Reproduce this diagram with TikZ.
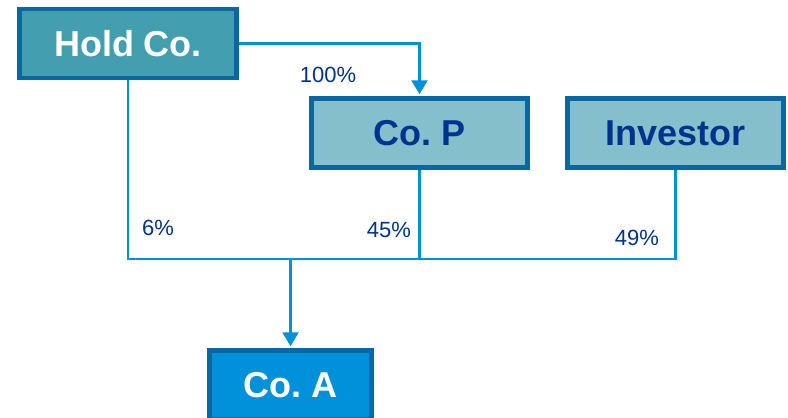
\documentclass[tikz,border=0pt]{standalone}
\usepackage{fontspec}
\setmainfont{Liberation Sans}
\frenchspacing
\usepackage{tikz}
\usetikzlibrary{positioning, calc}
\usetikzlibrary{arrows.meta}
\definecolor{darkblue}{HTML}{0868A2}
\definecolor{navy}{HTML}{00338D}
\definecolor{teal}{HTML}{439EAF}
\definecolor{lightteal}{HTML}{85BFCB}
\definecolor{brightblue}{HTML}{0091DA}
\tikzstyle{orgbox}=[rectangle,draw=darkblue,line width=4.5pt,minimum height=69pt,font=\fontsize{36}{40}\selectfont\bfseries]
\tikzstyle{edgepath} = [brightblue,line width=2.5pt]
\tikzstyle{edgearrow} = [edgepath,-{Triangle[width=16pt,length=14pt]}]
\tikzstyle{pctlabel}=[text=navy,font=\fontsize{22}{24}\selectfont]

\begin{document}
\begin{tikzpicture}[x=1pt,y=1pt]
        \useasboundingbox (0,0) rectangle (788,-418);
        \node[orgbox, fill=teal, text=white, minimum width=217pt] (hold) at (128,-43.5) {Hold Co.};
        \node[orgbox, fill=lightteal, text=navy, minimum width=216pt] (cop) at (419.5,-133) {Co. P};
        \node[orgbox, fill=lightteal, text=navy, minimum width=216pt] (inv) at (675.5,-133) {Investor};
        \node[orgbox, fill=brightblue, text=white, minimum width=162pt] (coa) at (290.5,-385) {Co. A};
        \coordinate (join) at (290.5,-259);
        
        \draw[edgearrow] (hold.east) -| ($(cop.north)+(0,2)$);
        \draw[edgepath] (hold.south) |- (join);
        \draw[edgepath] (cop.south) |- (join);
        \draw[edgepath] (inv.south) |- (join);
        \draw[edgearrow] (join) -- ($(coa.north)+(0,2)$);
        
        \node[pctlabel] (p100) at (328,-75) {100\%};
        \node[pctlabel] (p6) at (158,-228) {6\%};
        \node[pctlabel] (p45) at (389,-230) {45\%};
        \node[pctlabel] (p49) at (637,-238) {49\%};
    \end{tikzpicture}
\end{document}
